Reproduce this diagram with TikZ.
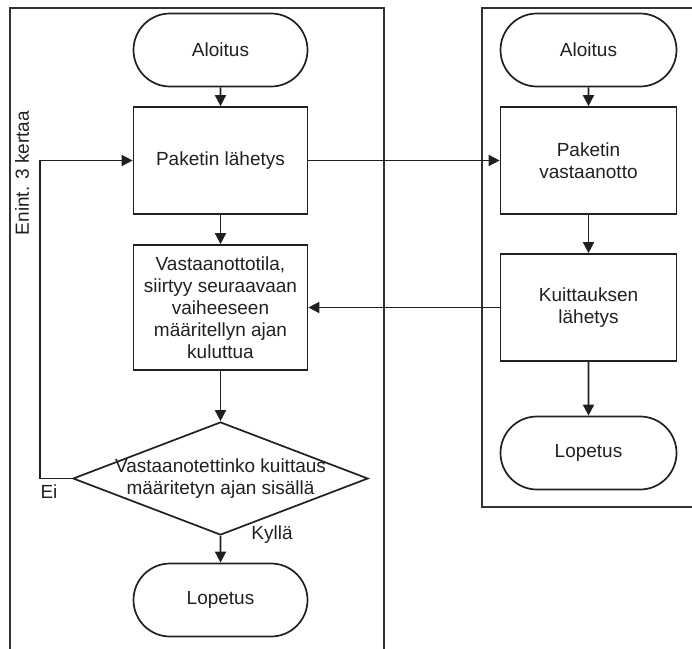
\documentclass[tikz,border=0pt]{standalone}
\usepackage{fontspec}
\setmainfont{Liberation Sans}
\usetikzlibrary{shapes.geometric,shapes.misc,arrows.meta}
\definecolor{ink}{HTML}{202020}
\definecolor{frame}{HTML}{333333}
\begin{document}
\begin{tikzpicture}[x=1pt,y=-1pt,
  every node/.style={font=\fontsize{19}{22}\selectfont, text=ink},
  term/.style={rounded rectangle, draw=ink, line width=1.7pt, minimum width=174pt, minimum height=73pt, inner sep=0pt},
  proc/.style={rectangle, draw=ink, line width=1.7pt, minimum width=174pt, inner sep=0pt, align=center},
  decide/.style={diamond, draw=ink, line width=1.7pt, minimum width=295pt, minimum height=113pt, inner sep=0pt},
  flow/.style={draw=ink, line width=1.7pt, -{Triangle[length=11pt,width=11pt]}},
  lane/.style={draw=frame, line width=2pt},
  lbl/.style={inner sep=0pt}]
\useasboundingbox (0,0) rectangle (692,648);

% swimlane frames
\draw[lane] (9.5,650) -- (9.5,7.5) -- (383.5,7.5) -- (383.5,650);
\draw[lane] (694,7.5) -- (481.5,7.5) -- (481.5,507) -- (694,507);

% sender column
\node[term] (a1) at (220.5,50) {Aloitus};
\node[proc, minimum height=107pt] (p1) at (220.5,160.5) {Paketin lähetys};
\node[proc, minimum height=125pt] (v1) at (220.5,307.5)
  {Vastaanottotila,\\siirtyy seuraavaan\\vaiheeseen\\määritellyn ajan\\kuluttua};
\node[decide] (d1) at (220.5,478.5) {};
\node[lbl, align=center] (dt) at (220.5,478.5) {Vastaanotettinko kuittaus\\määritetyn ajan sisällä};
\node[term] (l1) at (220.5,600) {Lopetus};

% receiver column
\node[term, minimum width=176pt] (a2) at (588.5,50) {Aloitus};
\node[proc, minimum width=176pt, minimum height=107pt] (p2) at (588.5,160.5) {Paketin\\vastaanotto};
\node[proc, minimum width=176pt, minimum height=107pt] (k2) at (588.5,307.5) {Kuittauksen\\lähetys};
\node[term, minimum width=176pt] (l2) at (588.5,453) {Lopetus};

% labels
\node[lbl] (ei) at (49,492) {Ei};
\node[lbl] (ky) at (272,535) {Kyllä};
\node[lbl, rotate=90] (en) at (22,173) {Enint. 3 kertaa};

% connectors
\draw[flow] (a1) -- (p1);
\draw[flow] (p1) -- (v1);
\draw[flow] (v1) -- (d1);
\draw[flow] (d1) -- (l1);
\coordinate (loop) at (40,478.5);
\draw[flow] (d1.west) -- (loop) |- (p1.west);
\draw[flow] (p1.east) -- (p2.west);
\draw[flow] (k2.west) -- (v1.east);
\draw[flow] (a2) -- (p2);
\draw[flow] (p2) -- (k2);
\draw[flow] (k2) -- (l2);
\end{tikzpicture}
\end{document}
